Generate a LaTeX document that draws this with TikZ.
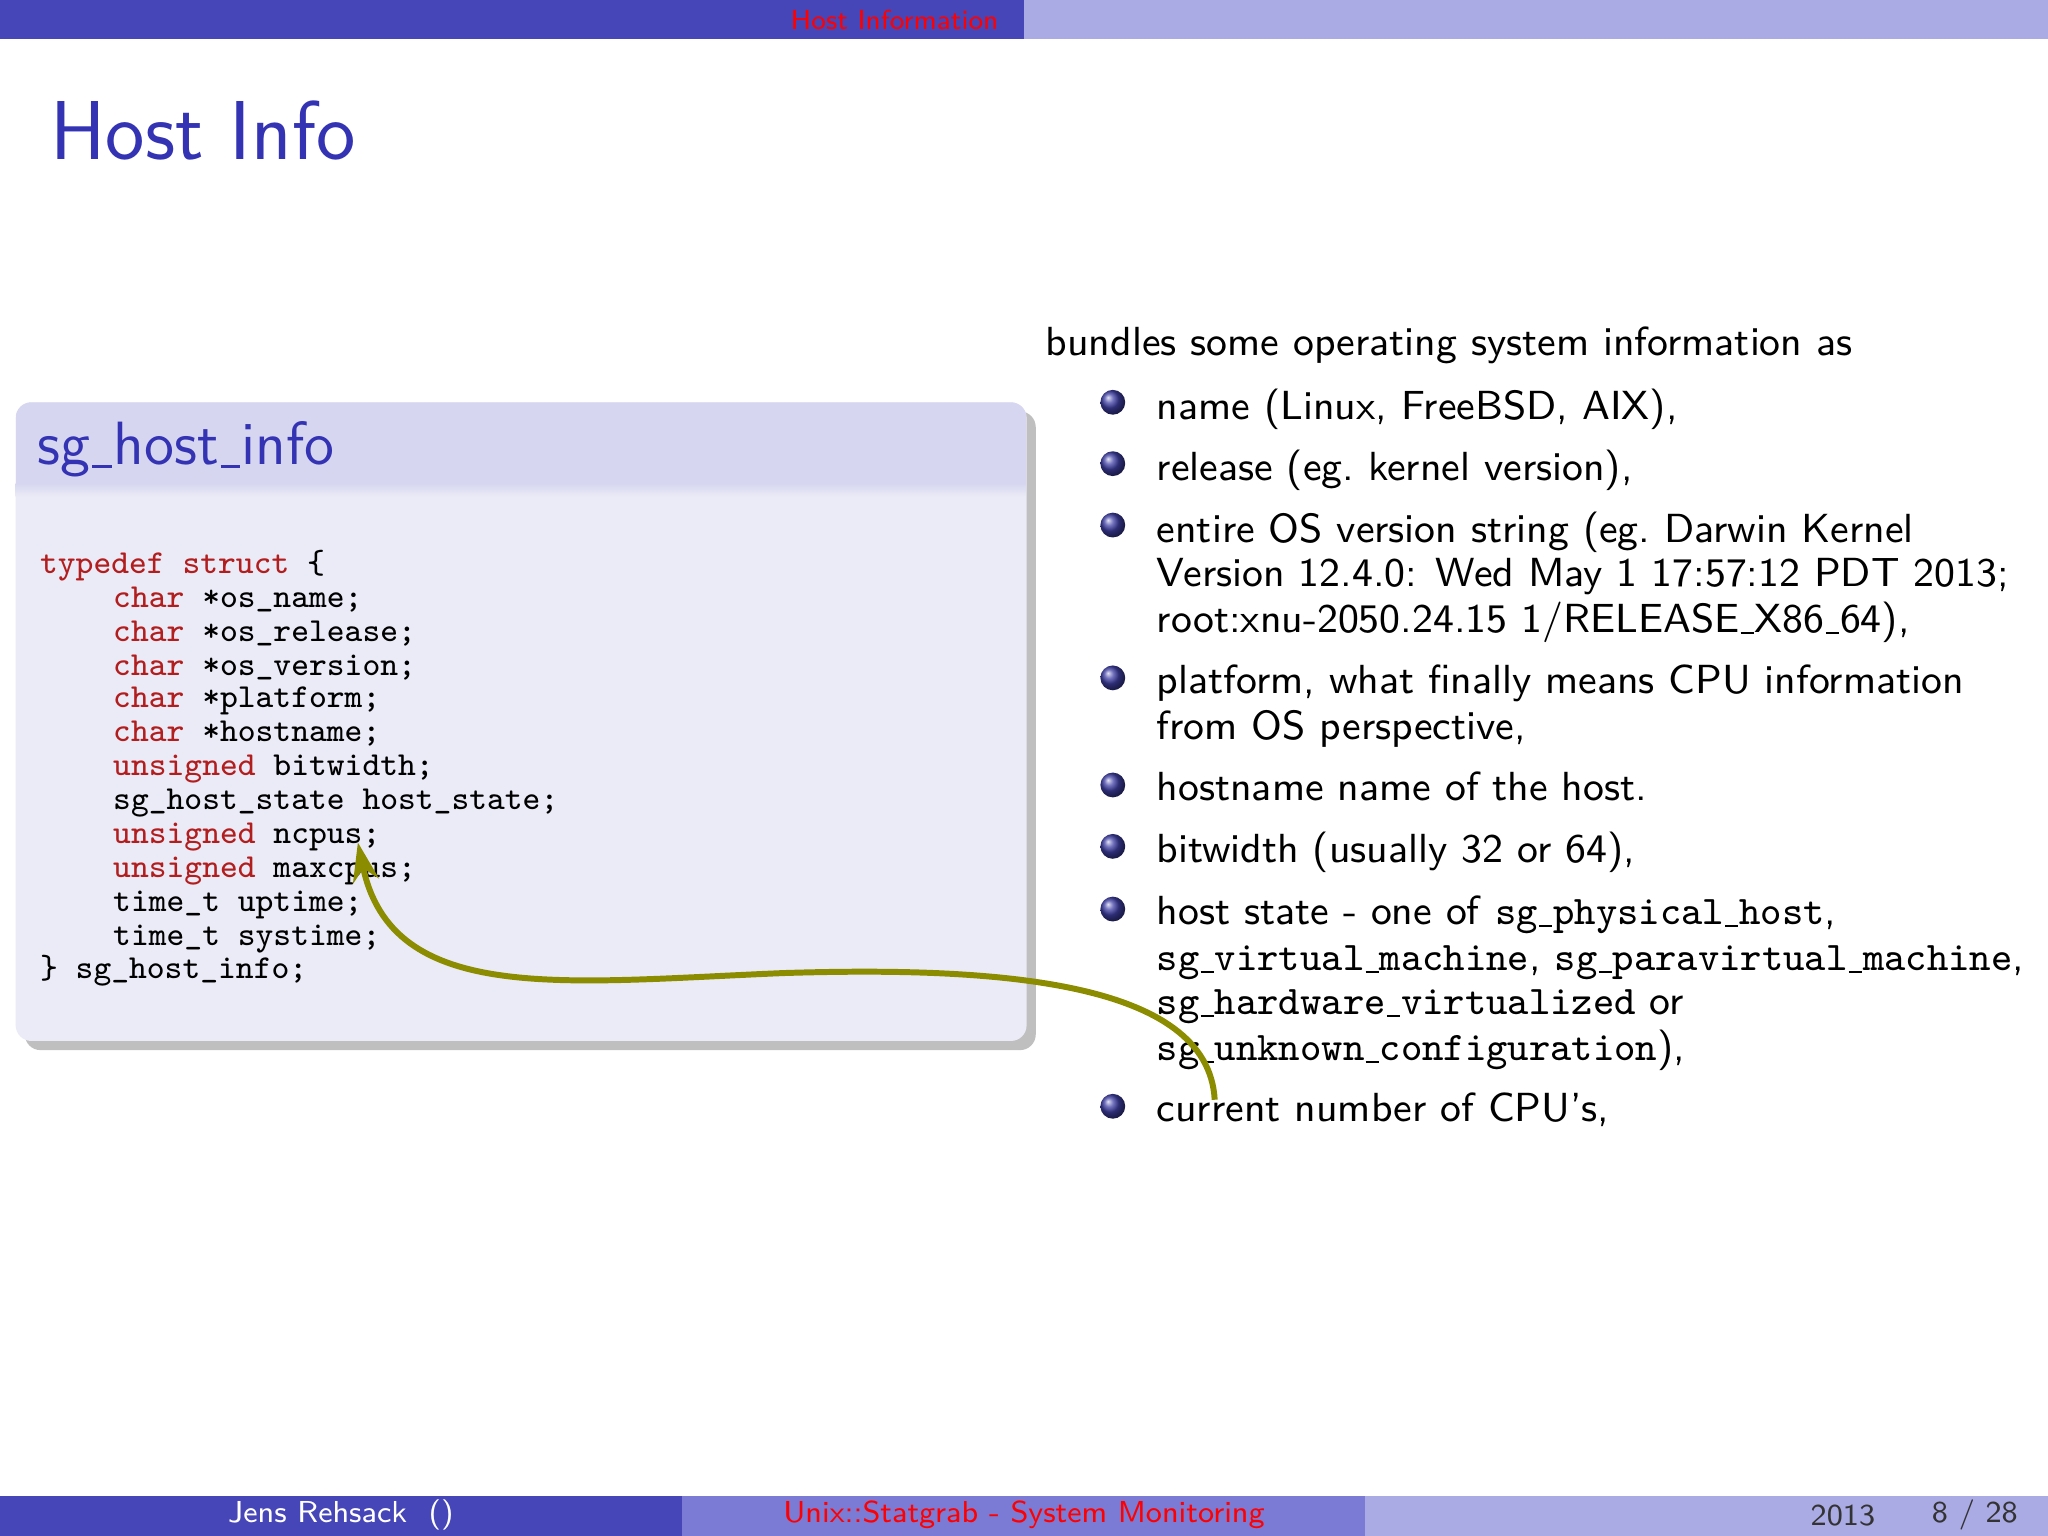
\documentclass[tikz,border=0pt]{standalone}
\usetikzlibrary{shadows,arrows.meta}
\definecolor{dkbar}{RGB}{70,70,184}
\definecolor{mdbar}{RGB}{123,123,214}
\definecolor{ltbar}{RGB}{170,170,228}
\definecolor{titleblue}{RGB}{51,51,179}
\definecolor{blkhead}{RGB}{214,214,240}
\definecolor{blkbody}{RGB}{235,235,247}
\definecolor{kw}{RGB}{178,30,30}
\definecolor{olive}{RGB}{140,140,0}
\tikzset{
 txt/.style={anchor=base west,inner sep=0pt,font=\sffamily\fontsize{8.85}{10}\selectfont},
 code/.style={anchor=base west,inner sep=0pt,font=\ttfamily\fontsize{7.3}{9}\selectfont},
 bul/.style={circle,inner sep=0pt,minimum size=0.19cm,shading=ball,ball color=dkbar!90!black},
}
\newcommand{\kwd}[1]{\textcolor{kw}{#1}}
\newcommand{\us}{\kern0.03em\rule[-0.12ex]{0.32em}{0.045em}\kern0.03em}
\begin{document}
\begin{tikzpicture}[x=0.01cm,y=-0.01cm]
\useasboundingbox (0,0) rectangle (1568,1176);
% top bar
\fill[dkbar] (0,0) rectangle (784,30);
\fill[ltbar] (784,0) rectangle (1568,30);
\node[anchor=east,inner sep=0pt,font=\sffamily\fontsize{6}{7}\selectfont,text=red] (hi) at (765,15) {Host Information};
% title
\node[anchor=base west,inner sep=0pt,font=\sffamily\fontsize{18.2}{20}\selectfont,text=titleblue] (title) at (38,122) {Host Info};
% block
\fill[blkbody,rounded corners=0.12cm,drop shadow={shadow xshift=0.07cm,shadow yshift=-0.07cm,opacity=0.5}] (12,308) rectangle (786,797);
\begin{scope}
\clip[rounded corners=0.12cm] (12,308) rectangle (786,797);
\fill[blkhead] (12,308) rectangle (786,375);
\fill[top color=blkhead,bottom color=blkbody] (12,370) rectangle (786,380);
\end{scope}
\node[anchor=base west,inner sep=0pt,font=\sffamily\fontsize{13.3}{15}\selectfont,text=titleblue] (btitle) at (28,356) {sg\us host\us info};
% code
\node[code] (c1) at (30,439) {\kwd{typedef} \kwd{struct} \{};
\node[code] (c2) at (86,465) {\kwd{char} *os\_name;};
\node[code] (c3) at (86,491) {\kwd{char} *os\_release;};
\node[code] (c4) at (86,517) {\kwd{char} *os\_version;};
\node[code] (c5) at (86,542) {\kwd{char} *platform;};
\node[code] (c6) at (86,568) {\kwd{char} *hostname;};
\node[code] (c7) at (86,594) {\kwd{unsigned} bitwidth;};
\node[code] (c8) at (86,620) {sg\_host\_state host\_state;};
\node[code] (c9) at (86,646) {\kwd{unsigned} ncpus;};
\node[code] (c10) at (86,672) {\kwd{unsigned} maxcpus;};
\node[code] (c11) at (86,698) {time\_t uptime;};
\node[code] (c12) at (86,724) {time\_t systime;};
\node[code] (c13) at (30,749) {\} sg\_host\_info;};
% right text
\node[txt] (intro) at (800,272) {bundles some operating system information as};
\foreach \n/\y in {b1/311,b2/358,b3/405,b4/522,b5/604,b6/651,b7/699,b8/850}
  \node[bul] (\n) at (852,\y-3) {};
\node[txt] (t1) at (885,321) {name (Linux, FreeBSD, AIX),};
\node[txt] (t2) at (885,368) {release (eg.\ kernel version),};
\node[txt] (t3a) at (885,415) {entire OS version string (eg.\ Darwin Kernel};
\node[txt] (t3b) at (885,449) {Version 12.4.0: Wed May 1 17:57:12 PDT 2013;};
\node[txt] (t3c) at (885,484) {root:xnu-2050.24.15 1/RELEASE\us X86\us 64),};
\node[txt] (t4a) at (885,531) {platform, what finally means CPU information};
\node[txt] (t4b) at (885,566) {from OS perspective,};
\node[txt] (t5) at (885,613) {hostname name of the host.};
\node[txt] (t6) at (885,660) {bitwidth (usually 32 or 64),};
\node[txt] (t7a) at (885,708) {host state - one of \texttt{sg\us physical\us host},};
\node[txt] (t7b) at (885,743) {\texttt{sg\us virtual\us machine}, \texttt{sg\us paravirtual\us machine},};
\node[txt] (t7c) at (885,777) {\texttt{sg\us hardware\us virtualized} or};
\node[txt] (t7d) at (885,812) {\texttt{sg\us unknown\us configuration}),};
\node[txt] (t8) at (885,859) {current number of CPU's,};
% arrow
\coordinate (as) at (930,842);
\coordinate (ae) at (274,645);
\draw[olive,line width=1.3pt,-{Stealth[length=0.3cm,width=0.2cm]}] (as) .. controls (925,750) and (760,740) .. (600,745) .. controls (430,752) and (300,770) .. (ae);
% footer
\fill[dkbar] (0,1145) rectangle (522,1176);
\fill[mdbar] (522,1145) rectangle (1045,1176);
\fill[ltbar] (1045,1145) rectangle (1568,1176);
\node[anchor=center,inner sep=0pt,font=\sffamily\fontsize{6.6}{8}\selectfont,text=white] (f1) at (261,1160) {Jens Rehsack\ \ ()};
\node[anchor=center,inner sep=0pt,font=\sffamily\fontsize{6.6}{8}\selectfont,text=red] (f2) at (784,1160) {Unix::Statgrab - System Monitoring};
\node[anchor=center,inner sep=0pt,font=\sffamily\fontsize{6.6}{8}\selectfont,text=black!80] (f3) at (1411,1160) {2013};
\node[anchor=center,inner sep=0pt,font=\sffamily\fontsize{6.6}{8}\selectfont,text=black!80] (f4) at (1512,1160) {8 / 28};
\end{tikzpicture}
\end{document}
